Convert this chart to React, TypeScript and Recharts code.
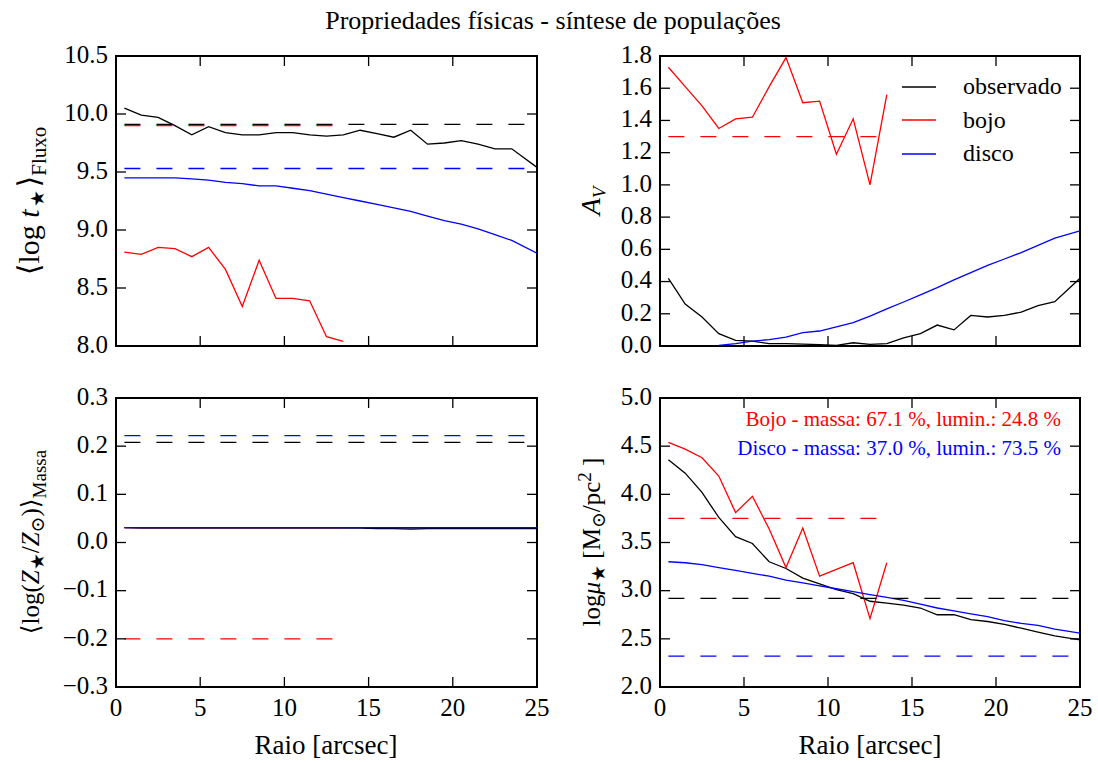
import React from 'react';
import { LineChart, Line, XAxis, YAxis, ReferenceArea, Legend } from 'recharts';

// radial bins (arcsec)
const radii = [0.5, 1.5, 2.5, 3.5, 4.5, 5.5, 6.5, 7.5, 8.5, 9.5, 10.5, 11.5, 12.5, 13.5, 14.5, 15.5, 16.5, 17.5, 18.5, 19.5, 20.5, 21.5, 22.5, 23.5, 25];
const xTicks = [0, 5, 10, 15, 20, 25];
const legendOrder = ['observado', 'bojo', 'disco'];

// <log t*> (flux weighted)
const ageObs = [10.05, 9.99, 9.97, 9.9, 9.82, 9.89, 9.84, 9.82, 9.82, 9.84, 9.84, 9.82, 9.81, 9.82, 9.86, 9.83, 9.8, 9.86, 9.74, 9.75, 9.77, 9.74, 9.7, 9.7, 9.54];
const ageBojo = [8.81, 8.79, 8.85, 8.84, 8.77, 8.85, 8.66, 8.34, 8.74, 8.41, 8.41, 8.39, 8.08, 8.04];
const ageDisco = [9.45, 9.45, 9.45, 9.45, 9.44, 9.43, 9.41, 9.4, 9.38, 9.38, 9.36, 9.34, 9.31, 9.28, 9.25, 9.22, 9.19, 9.16, 9.12, 9.08, 9.05, 9.01, 8.96, 8.91, 8.8];
const ageMeans = [9.91, 9.9, 9.53];
const ageTicks = [8.0, 8.5, 9.0, 9.5, 10.0, 10.5];

// A_V
const avObs = [0.42, 0.26, 0.18, 0.077, 0.035, 0.03, 0.015, 0.015, 0.012, 0.008, 0.004, 0.02, 0.01, 0.015, 0.05, 0.077, 0.13, 0.1, 0.19, 0.18, 0.19, 0.21, 0.25, 0.275, 0.42];
const avBojo = [1.73, 1.61, 1.49, 1.35, 1.41, 1.42, 1.61, 1.79, 1.51, 1.52, 1.19, 1.41, 1.0, 1.56];
const avDisco = [null, null, null, 0.004, 0.015, 0.03, 0.04, 0.055, 0.083, 0.093, 0.118, 0.145, 0.186, 0.23, 0.273, 0.317, 0.362, 0.41, 0.455, 0.5, 0.54, 0.58, 0.625, 0.67, 0.715];
const avMeans = [null, 1.3, null];
const avTicks = [0, 0.2, 0.4, 0.6, 0.8, 1.0, 1.2, 1.4, 1.6, 1.8];

// <log Z/Zsun> (mass weighted)
const zObs = [0.031, 0.03, 0.03, 0.03, 0.03, 0.03, 0.03, 0.03, 0.03, 0.03, 0.03, 0.03, 0.03, 0.03, 0.03, 0.029, 0.029, 0.028, 0.029, 0.029, 0.029, 0.029, 0.029, 0.029, 0.029];
const zBojo = [0.031, 0.031, 0.031, 0.031, 0.031, 0.031, 0.031, 0.031, 0.031, 0.031, 0.031, 0.031, 0.031, 0.031];
const zDisco = [0.031, 0.031, 0.031, 0.031, 0.031, 0.031, 0.031, 0.031, 0.031, 0.031, 0.031, 0.031, 0.031, 0.031, 0.031, 0.031, 0.031, 0.031, 0.031, 0.031, 0.031, 0.031, 0.031, 0.031, 0.031];
const zMeans = [0.208, -0.2, 0.222];
const zTicks = [-0.3, -0.2, -0.1, 0, 0.1, 0.2, 0.3];

// log mu* (surface density)
const muObs = [4.36, 4.22, 4.02, 3.76, 3.56, 3.49, 3.3, 3.23, 3.13, 3.07, 3.01, 2.97, 2.89, 2.87, 2.85, 2.82, 2.75, 2.75, 2.7, 2.68, 2.65, 2.61, 2.57, 2.53, 2.49];
const muBojo = [4.54, 4.47, 4.38, 4.19, 3.81, 3.98, 3.64, 3.24, 3.65, 3.15, 3.22, 3.29, 2.71, 3.29];
const muDisco = [3.3, 3.29, 3.27, 3.24, 3.21, 3.18, 3.15, 3.11, 3.08, 3.05, 3.02, 2.99, 2.96, 2.93, 2.9, 2.86, 2.82, 2.79, 2.76, 2.73, 2.69, 2.66, 2.64, 2.6, 2.56];
const muMeans = [2.92, 3.75, 2.32];
const muTicks = [2.0, 2.5, 3.0, 3.5, 4.0, 4.5, 5.0];

const FONT = "'Liberation Serif', 'DejaVu Serif', serif";
const RED = '#ff0000';
const BLUE = '#0000ff';
const YW = 100;
const MT = 20;
const MR = 20;

function buildRows(obs, bojo, disco, means) {
  return radii.map((r, i) => ({
    r,
    obs: obs[i] ?? null,
    bojo: bojo[i] ?? null,
    disco: disco[i] ?? null,
    obsMean: means[0],
    bojoMean: i < bojo.length ? means[1] : null,
    discoMean: means[2],
  }));
}

const fmt1 = (v) => {
  const s = Math.abs(v).toFixed(1);
  return v < -1e-9 ? '\u2212' + s : s;
};

function LegendBox({ payload }) {
  const items = (payload || [])
    .filter((p) => p.type !== 'none')
    .sort((a, b) => legendOrder.indexOf(a.value) - legendOrder.indexOf(b.value));
  return (
    <div style={{ fontFamily: FONT, fontSize: 24 }}>
      {items.map((p) => (
        <div key={p.value} style={{ display: 'flex', alignItems: 'center', height: 33.5 }}>
          <svg width={34} height={4} style={{ marginRight: 27 }}>
            <line x1={0} x2={34} y1={2} y2={2} stroke={p.color} strokeWidth={1.3} />
          </svg>
          <span>{p.value}</span>
        </div>
      ))}
    </div>
  );
}

function Panel({ rows, left, top, w, h, domain, ticks, xLabels, legend }) {
  const xh = xLabels ? 60 : 20;
  const bottom = MT + h;

  const yTick = (p) => (
    <g>
      <line x1={YW} x2={YW + 10} y1={p.y} y2={p.y} stroke="#000" strokeWidth={1.3} />
      <line x1={YW + w - 10} x2={YW + w} y1={p.y} y2={p.y} stroke="#000" strokeWidth={1.3} />
      <text x={YW - 8} y={p.y - 2} dy="0.35em" textAnchor="end" fontSize={25} fontFamily={FONT} fill="#000">
        {fmt1(p.payload.value)}
      </text>
    </g>
  );

  const xTick = (p) => (
    <g>
      <line x1={p.x} x2={p.x} y1={bottom - 10} y2={bottom} stroke="#000" strokeWidth={1.3} />
      <line x1={p.x} x2={p.x} y1={MT} y2={MT + 10} stroke="#000" strokeWidth={1.3} />
      {xLabels && (
        <text x={p.x} y={bottom + 20} dy="0.35em" textAnchor="middle" fontSize={25} fontFamily={FONT} fill="#000">
          {p.payload.value}
        </text>
      )}
    </g>
  );

  const solid = { type: 'linear', dot: false, activeDot: false, isAnimationActive: false, strokeWidth: 1.3 };
  const dashed = { ...solid, strokeDasharray: '16 16', legendType: 'none' };

  return (
    <div style={{ position: 'absolute', left: left - YW, top: top - MT }}>
      <LineChart width={YW + w + MR} height={MT + h + xh} data={rows} margin={{ top: MT, right: MR, bottom: 0, left: 0 }}>
        <XAxis dataKey="r" type="number" domain={[0, 25]} ticks={xTicks} interval={0} tick={xTick}
          tickLine={false} axisLine={false} height={xh} allowDataOverflow />
        <YAxis type="number" domain={domain} ticks={ticks} interval={0} tick={yTick}
          tickLine={false} axisLine={false} width={YW} allowDataOverflow />
        <Line {...solid} dataKey="obs" name="observado" stroke="#000" />
        <Line {...solid} dataKey="bojo" name="bojo" stroke={RED} />
        <Line {...solid} dataKey="disco" name="disco" stroke={BLUE} />
        {rows[0].obsMean != null && <Line {...dashed} dataKey="obsMean" stroke="#000" />}
        <Line {...dashed} dataKey="bojoMean" stroke={RED} />
        {rows[0].discoMean != null && <Line {...dashed} dataKey="discoMean" stroke={BLUE} />}
        <ReferenceArea x1={0} x2={25} y1={domain[0]} y2={domain[1]} fill="none" fillOpacity={0} stroke="#000" strokeWidth={2} />
        {legend && (
          <Legend layout="vertical" align="center" verticalAlign="middle" content={LegendBox}
            wrapperStyle={{ left: 242 + YW, top: 34, width: 'auto', height: 'auto' }} />
        )}
      </LineChart>
    </div>
  );
}

const sub = { fontSize: 19 };
const subBig = { fontSize: 21 };

export default function App() {
  return (
    <div style={{ position: 'absolute', left: 0, top: 0, width: 1098, height: 763, background: '#fff' }}>
      <Panel rows={buildRows(ageObs, ageBojo, ageDisco, ageMeans)} left={116} top={56} w={421} h={290}
        domain={[8, 10.5]} ticks={ageTicks} xLabels={false} />
      <Panel rows={buildRows(avObs, avBojo, avDisco, avMeans)} left={660} top={56} w={420} h={290}
        domain={[0, 1.8]} ticks={avTicks} xLabels={false} legend />
      <Panel rows={buildRows(zObs, zBojo, zDisco, zMeans)} left={116} top={398} w={421} h={289}
        domain={[-0.3, 0.3]} ticks={zTicks} xLabels />
      <Panel rows={buildRows(muObs, muBojo, muDisco, muMeans)} left={660} top={398} w={420} h={289}
        domain={[2, 5]} ticks={muTicks} xLabels />

      <svg width={1098} height={763} style={{ position: 'absolute', left: 0, top: 0, pointerEvents: 'none' }}
        fontFamily={FONT} fill="#000">
        <text x={553} y={20} dy="0.35em" textAnchor="middle" fontSize={26}>
          Propriedades físicas - síntese de populações
        </text>

        <text x={326} y={745} dy="0.35em" textAnchor="middle" fontSize={27}>Raio [arcsec]</text>
        <text x={870} y={745} dy="0.35em" textAnchor="middle" fontSize={27}>Raio [arcsec]</text>

        <text transform="translate(39,201) rotate(-90)" textAnchor="middle" fontSize={30}>
          <tspan>⟨log </tspan>
          <tspan fontStyle="italic">t</tspan>
          <tspan dx={2} dy={5} style={sub}>★</tspan>
          <tspan dx={3} dy={-5}>⟩</tspan>
          <tspan dy={7} style={subBig}>Fluxo</tspan>
        </text>

        <text transform="translate(600,201) rotate(-90)" textAnchor="middle" fontSize={28}>
          <tspan fontStyle="italic">A</tspan>
          <tspan dy={6} fontStyle="italic" style={sub}>V</tspan>
        </text>

        <text transform="translate(39,542) rotate(-90)" textAnchor="middle" fontSize={25}>
          <tspan>⟨log(</tspan>
          <tspan fontStyle="italic">Z</tspan>
          <tspan dy={5} style={sub}>★</tspan>
          <tspan dy={-5}>/</tspan>
          <tspan fontStyle="italic">Z</tspan>
          <tspan dy={5} style={sub}>⊙</tspan>
          <tspan dy={-5}>)⟩</tspan>
          <tspan dy={7} style={sub}>Massa</tspan>
        </text>

        <text transform="translate(600,542) rotate(-90)" textAnchor="middle" fontSize={25}>
          <tspan>log</tspan>
          <tspan fontStyle="italic">μ</tspan>
          <tspan dy={5} style={sub}>★</tspan>
          <tspan dy={-5}> [M</tspan>
          <tspan dy={5} style={sub}>⊙</tspan>
          <tspan dy={-5}>/pc</tspan>
          <tspan dy={-9} style={sub}>2</tspan>
          <tspan dy={9}> ]</tspan>
        </text>

        <text x={1061} y={419} dy="0.35em" textAnchor="end" fontSize={21} fill={RED}>
          Bojo - massa: 67.1 %, lumin.: 24.8 %
        </text>
        <text x={1061} y={448} dy="0.35em" textAnchor="end" fontSize={21} fill={BLUE}>
          Disco - massa: 37.0 %, lumin.: 73.5 %
        </text>
      </svg>
    </div>
  );
}
